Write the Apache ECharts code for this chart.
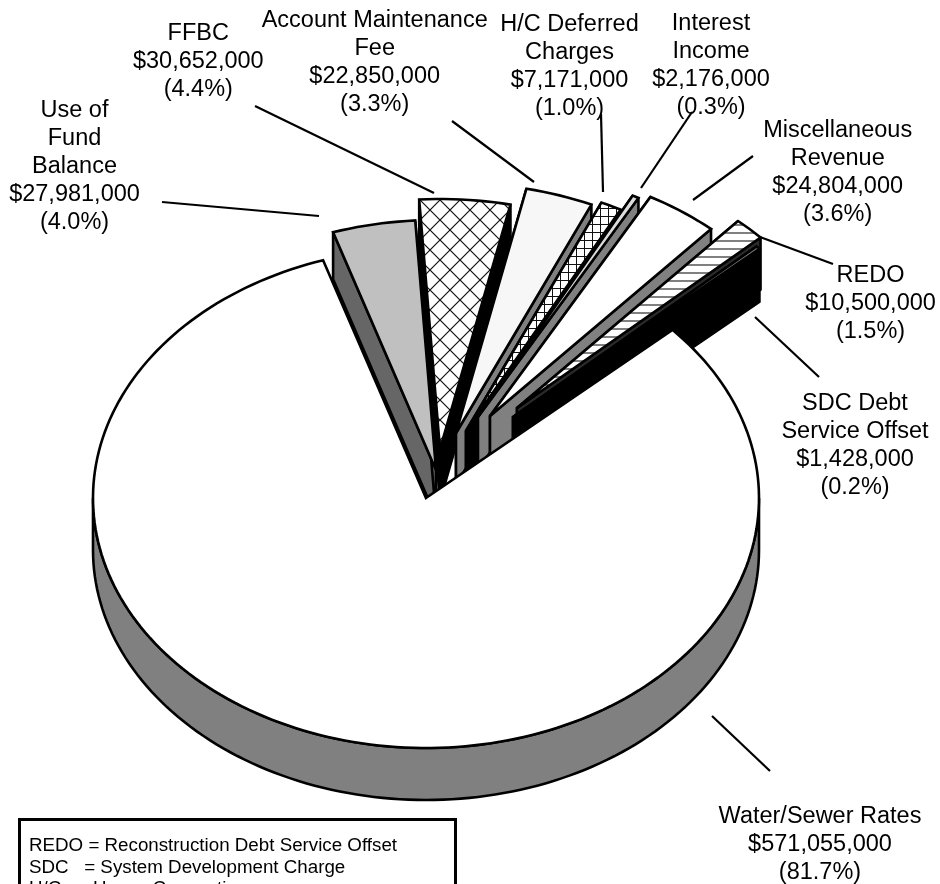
<!DOCTYPE html>
<html>
<head>
<meta charset="utf-8">
<title>Revenue Sources</title>
<style>
  html, body { margin: 0; padding: 0; background: #fff; overflow: hidden; }
  #chart { width: 940px; height: 884px; }
</style>
<script src="https://cdn.jsdelivr.net/npm/echarts@6/dist/echarts.min.js"></script>
</head>
<body>
<div id="chart"></div>
<script>
// Revenue categories, clockwise from the top-left wedge; the largest one closes the circle.
const categories = [
  'Use of\nFund\nBalance',
  'FFBC',
  'Account Maintenance\nFee',
  'H/C Deferred\nCharges',
  'Interest\nIncome',
  'Miscellaneous\nRevenue',
  'REDO',
  'SDC Debt\nService Offset',
  'Water/Sewer Rates'
];
const revenue = [27981000, 30652000, 22850000, 7171000, 2176000, 24804000, 10500000, 1428000, 571055000];
const glossary = [
  'REDO = Reconstruction Debt Service Offset',
  'SDC   = System Development Charge',
  'H/C   = House Connection'
];

// Projection of the tilted disc
const disc = { cx: 426, cy: 498, rx: 333, ry: 250, firstAngle: -18 };
const FONT = '"Liberation Sans", Arial, sans-serif';

// Per-wedge drawing settings, same order as the categories
const pull = [[10, -28], [14, -49], [30, -65], [40, -67], [52, -81], [64, -82], [91, -90], [87, -81], [0, 0]];
const depth = [47, 52, 52, 52, 52, 52, 52, 53, 52];
const wallColor = ['#666666', '#000000', '#808080', '#000000', '#808080', '#808080', '#2a2a2a', '#000000', '#808080'];
const labelAnchor = [[74.5, 97], [198.3, 19.8], [374.7, 6.5], [569.5, 10.3], [711, 9.5], [837.7, 117], [870.5, 262], [855, 390], [820, 803]];
const leaders = [
  [162, 202, 319, 216], [255, 106, 434, 193], [452, 121, 534, 182],
  [601, 114, 603, 192], [692, 112, 641, 188], [753, 156, 693, 200],
  [760, 237, 833, 264], [755, 317, 819, 377], [712, 716, 770, 771]
];

function tile(size, draw) {
  const c = document.createElement('canvas');
  c.width = c.height = size;
  const g = c.getContext('2d');
  g.fillStyle = '#fff';
  g.fillRect(0, 0, size, size);
  draw(g, size);
  return { image: c, repeat: 'repeat' };
}
const diagonalCross = tile(20, (g, s) => {
  g.strokeStyle = '#111'; g.lineWidth = 1.2;
  g.beginPath();
  g.moveTo(0, 0); g.lineTo(s, s);
  g.moveTo(s, 0); g.lineTo(0, s);
  g.stroke();
});
const squareGrid = tile(8, (g, s) => {
  g.fillStyle = '#111';
  g.fillRect(0, 0, s, 1);
  g.fillRect(0, 0, 1, s);
});
const horizontalRule = tile(8, (g, s) => {
  g.fillStyle = '#808080';
  g.fillRect(0, 0, s, 2);
});
const faceFill = ['#c0c0c0', diagonalCross, '#f7f7f7', squareGrid, '#dddddd', '#ffffff', horizontalRule, '#808080', '#ffffff'];

const total = revenue.reduce((a, b) => a + b, 0);
const money = v => '$' + v.toLocaleString('en-US');
const rad = d => d * Math.PI / 180;

function rimPoint(deg, off, drop) {
  return [
    disc.cx + off[0] + disc.rx * Math.sin(rad(deg)),
    disc.cy + off[1] + drop - disc.ry * Math.cos(rad(deg))
  ];
}
function rimArc(from, to, off, drop) {
  const pts = [];
  const n = Math.max(2, Math.ceil(Math.abs(to - from) / 1.5));
  for (let i = 0; i <= n; i++) pts.push(rimPoint(from + (to - from) * i / n, off, drop));
  return pts;
}
function angleBefore(index) {
  let sum = 0;
  for (let i = 0; i < index; i++) sum += revenue[i];
  return disc.firstAngle + sum / total * 360;
}

function drawWedge(params, api) {
  const i = params.dataIndex;
  const value = api.value(0);
  const from = angleBefore(i);
  const to = from + value / total * 360;
  const off = pull[i];
  const d = depth[i];
  const apex = [disc.cx + off[0], disc.cy + off[1]];
  const low = [apex[0], apex[1] + d];
  const line = { stroke: '#000', lineWidth: 2.6, lineJoin: 'miter', miterLimit: 2 };
  const kids = [];
  const poly = (pts, fill) => kids.push({
    type: 'polygon', shape: { points: pts },
    style: Object.assign({ fill: fill }, line)
  });

  if (to - from > 180) {
    // Rim of the large wedge: only its front half can be seen
    const top = rimArc(90, 270, off, 0);
    const bottom = rimArc(270, 90, off, d);
    poly(top.concat(bottom), wallColor[i]);
  } else {
    const a = rimPoint(from, off, 0), b = rimPoint(to, off, 0);
    poly([apex, a, [a[0], a[1] + d], low], wallColor[i]);
    poly([apex, b, [b[0], b[1] + d], low], wallColor[i]);
  }
  poly([apex].concat(rimArc(from, to, off, 0)), faceFill[i]);
  return { type: 'group', children: kids };
}

function drawCaption(params, api) {
  const i = params.dataIndex;
  const value = api.value(0);
  const seg = leaders[i];
  const text = categories[i] + '\n' + money(value) + '\n(' + (value / total * 100).toFixed(1) + '%)';
  return {
    type: 'group',
    children: [
      {
        type: 'line',
        shape: { x1: seg[0], y1: seg[1], x2: seg[2], y2: seg[3] },
        style: { stroke: '#000', lineWidth: 2.2 }
      },
      {
        type: 'text',
        style: {
          text: text,
          x: labelAnchor[i][0], y: labelAnchor[i][1],
          align: 'center', verticalAlign: 'top',
          font: '23.5px ' + FONT, lineHeight: 28, fill: '#000'
        }
      }
    ]
  };
}

const chart = echarts.init(document.getElementById('chart'), null, { renderer: 'canvas' });
chart.setOption({
  animation: false,
  backgroundColor: '#ffffff',
  series: [
    {
      type: 'custom', coordinateSystem: 'none', silent: true, z: 2,
      data: revenue.map(v => [v]), renderItem: drawWedge
    },
    {
      type: 'custom', coordinateSystem: 'none', silent: true, z: 3,
      data: revenue.map(v => [v]), renderItem: drawCaption
    }
  ],
  graphic: [
    {
      type: 'rect', z: 5, silent: true,
      shape: { x: 19.5, y: 819.5, width: 436, height: 120 },
      style: { fill: '#fff', stroke: '#000', lineWidth: 3 }
    },
    {
      type: 'text', z: 6, silent: true,
      style: {
        text: glossary.join('\n'),
        x: 29, y: 835.2, align: 'left', verticalAlign: 'top',
        font: '18.75px ' + FONT, lineHeight: 21.6, fill: '#000'
      }
    }
  ]
});
</script>
</body>
</html>
